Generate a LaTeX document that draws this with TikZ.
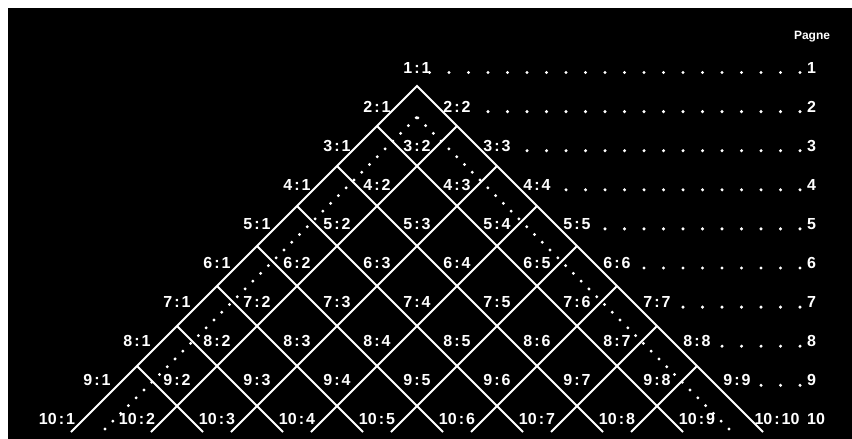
\documentclass[tikz,border=0pt]{standalone}
\usepackage{fontspec}
\setmainfont{Liberation Sans}
\begin{document}
\begin{tikzpicture}[x=1pt,y=-1pt,
  lat/.style={white, line width=1.8pt},
  dotv/.style={white, line width=2.3pt, dash pattern=on 2.3pt off 8.7pt},
  lab/.style={text=white, inner sep=0pt, font=\bfseries\fontsize{16}{16}\selectfont},
  num/.style={text=white, inner sep=0pt, anchor=west, font=\bfseries\fontsize{16}{16}\selectfont},
  rowdot/.style={fill=white, draw=none}]
\fill[white] (0,0) rectangle (852,439);
\fill[black] (8,8) rectangle (852,439);
\useasboundingbox (0,0) rectangle (852,439);
% lattice
\coordinate (apex) at (417,86);
\coordinate (bl) at (71,432);
\coordinate (br) at (763,432);
\draw[lat] (bl) -- (apex) -- (br);
\foreach \k in {1,...,7} {
  \coordinate (L\k) at ({417-40*\k},{86+40*\k});
  \coordinate (LE\k) at ({763-80*\k},432);
  \coordinate (R\k) at ({417+40*\k},{86+40*\k});
  \coordinate (RE\k) at ({71+80*\k},432);
  \draw[lat] (L\k) -- (LE\k);
  \draw[lat] (R\k) -- (RE\k);
}
% dotted V
\coordinate (dapex) at (417,117);
\coordinate (dl) at (99,435);
\coordinate (dr) at (735,435);
\draw[dotv] (dapex) -- (dl);
\draw[dotv] (dapex) -- (dr);
% labels r:c
\foreach \r in {1,...,10} {
  \foreach \c in {1,...,\r} {
    \node[lab] (l\r-\c) at ({417+40*(2*\c-\r-1)},{67.5+39.1*(\r-1)}) {\r\kern2pt:\kern2pt\c};
  }
  \node[num] (n\r) at (807,{67.5+39.1*(\r-1)}) {\r};
}
% row dots
\foreach \r/\m in {1/19,2/16,3/14,4/12,5/10,6/8,7/6,8/4,9/2} {
  \foreach \n in {0,...,\m} {
    \fill[rowdot] ({800-19.5*\n},{72.5+39.1*(\r-1)}) circle (1.7);
  }
}
\node[text=white, inner sep=0pt, font=\bfseries\fontsize{12}{12}\selectfont] (pagne) at (812,37) {Pagne};
\end{tikzpicture}
\end{document}
